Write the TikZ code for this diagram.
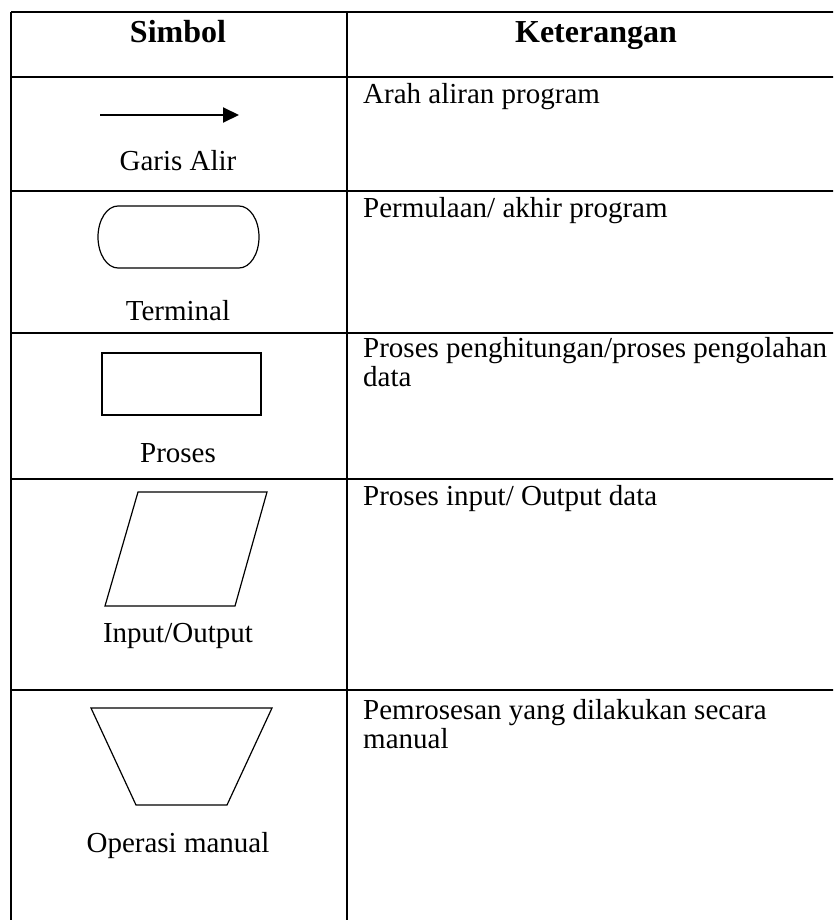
\documentclass[tikz,border=0pt]{standalone}
\usepackage{fontspec}
\setmainfont{Liberation Serif}
\usetikzlibrary{arrows.meta}
\begin{document}
\begin{tikzpicture}[x=1pt,y=-1pt,
  grid/.style={line width=1.8pt,black},
  shape line/.style={line width=1.2pt,black,line join=miter},
  flow/.style={line width=2pt,-{Triangle[length=16pt,width=15pt]}},
  head/.style={font=\fontsize{32}{36}\selectfont\bfseries,inner sep=0pt,anchor=base},
  label/.style={font=\fontsize{29}{33}\selectfont,inner sep=0pt,anchor=base},
  desc/.style={font=\fontsize{29}{33}\selectfont,inner sep=0pt,anchor=base west}]
\useasboundingbox (0,0) rectangle (833,920);
\clip (0,0) rectangle (833,920);
\fill[white] (0,0) rectangle (833,920);

% table rules
\foreach \yy in {12,77,191,333,479,690}
  \draw[grid] (11,\yy) -- (850,\yy);
\draw[grid] (11,12) -- (11,930);
\draw[grid] (347,12) -- (347,930);

% header
\node[head] (hsym) at (178,43) {Simbol};
\node[head] (hket) at (596,43) {Keterangan};

% row 1: flow line
\coordinate (arrS) at (100,115);
\coordinate (arrE) at (239,115);
\draw[flow] (arrS) -- (arrE);
\node[label] (l1) at (178,171) {Garis Alir};
\node[desc] (d1) at (363,104) {Arah aliran program};

% row 2: terminal
\draw[shape line] (118,206) -- (239,206)
  arc[start angle=-90,end angle=90,x radius=20,y radius=31]
  -- (118,268)
  arc[start angle=90,end angle=270,x radius=20,y radius=31] -- cycle;
\node[label] (l2) at (178,320) {Terminal};
\node[desc] (d2) at (363,217) {Permulaan/ akhir program};

% row 3: process
\draw[shape line] (102,353) rectangle (261,415);
\node[label] (l3) at (178,462) {Proses};
\node[desc] (d3a) at (363,357) {Proses penghitungan/proses pengolahan};
\node[desc] (d3b) at (363,386) {data};

% row 4: input/output
\draw[shape line] (138,492) -- (267,492) -- (235,606) -- (105,606) -- cycle;
\node[label] (l4) at (178,642) {Input/Output};
\node[desc] (d4) at (363,505) {Proses input/ Output data};

% row 5: manual operation
\draw[shape line] (91,708) -- (272,708) -- (227,805) -- (136,805) -- cycle;
\node[label] (l5) at (178,852) {Operasi manual};
\node[desc] (d5a) at (363,719) {Pemrosesan yang dilakukan secara};
\node[desc] (d5b) at (363,748) {manual};
\end{tikzpicture}
\end{document}
